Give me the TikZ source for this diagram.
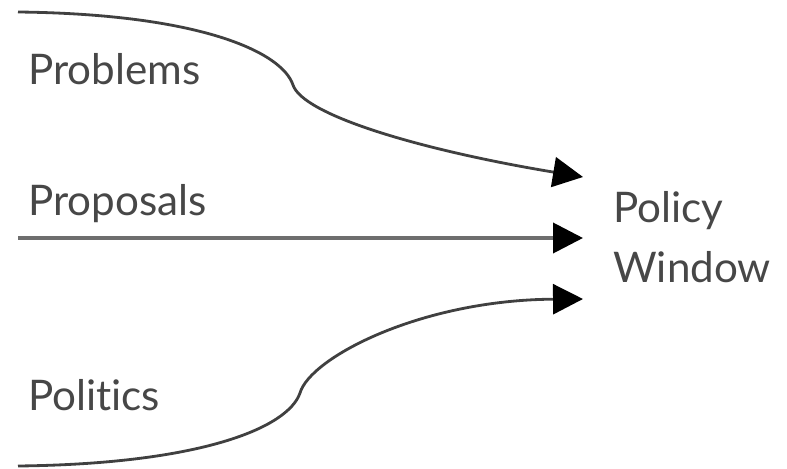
\documentclass[tikz,border=0pt]{standalone}
\usepackage{fontspec}
\setmainfont[Ligatures=NoCommon]{Lato}
\usetikzlibrary{arrows.meta}
\definecolor{inkgray}{HTML}{474747}
\definecolor{streamgray}{HTML}{6E6E6E}
\begin{document}
\begin{tikzpicture}[x=0.02cm,y=-0.02cm,
    label/.style={text=inkgray,font=\fontsize{24}{34.7}\selectfont,inner sep=0pt,anchor=base west},
    stream/.style={line width=1.6pt,draw=black!75,-{Triangle[length=0.6cm,width=0.6cm,color=black]}}]
  \useasboundingbox (0,0) rectangle (787,469);
  \node [label] (problems) at (28,85) {Problems};
  \node [label] (proposals) at (28,216) {Proposals};
  \node [label] (politics) at (28,410) {Politics};
  \node [label,align=left] (window) at (613,283) {Policy\\Window};
  \coordinate (pbstart) at (18,12);
  \coordinate (prstart) at (18,238);
  \coordinate (postart) at (18,466);
  \coordinate (pbend) at (583,177);
  \coordinate (prend) at (583,238);
  \coordinate (poend) at (583,299);
  \draw [stream] (pbstart) .. controls (200,14) and (282,52) .. (293,85)
    .. controls (303,115) and (420,150) .. (pbend);
  \draw [stream,draw=streamgray,line width=2.2pt] (prstart) -- (prend);
  \draw [stream] (postart) .. controls (200,464) and (288,428) .. (300,393)
    .. controls (310,358) and (420,300) .. (poend);
\end{tikzpicture}
\end{document}
